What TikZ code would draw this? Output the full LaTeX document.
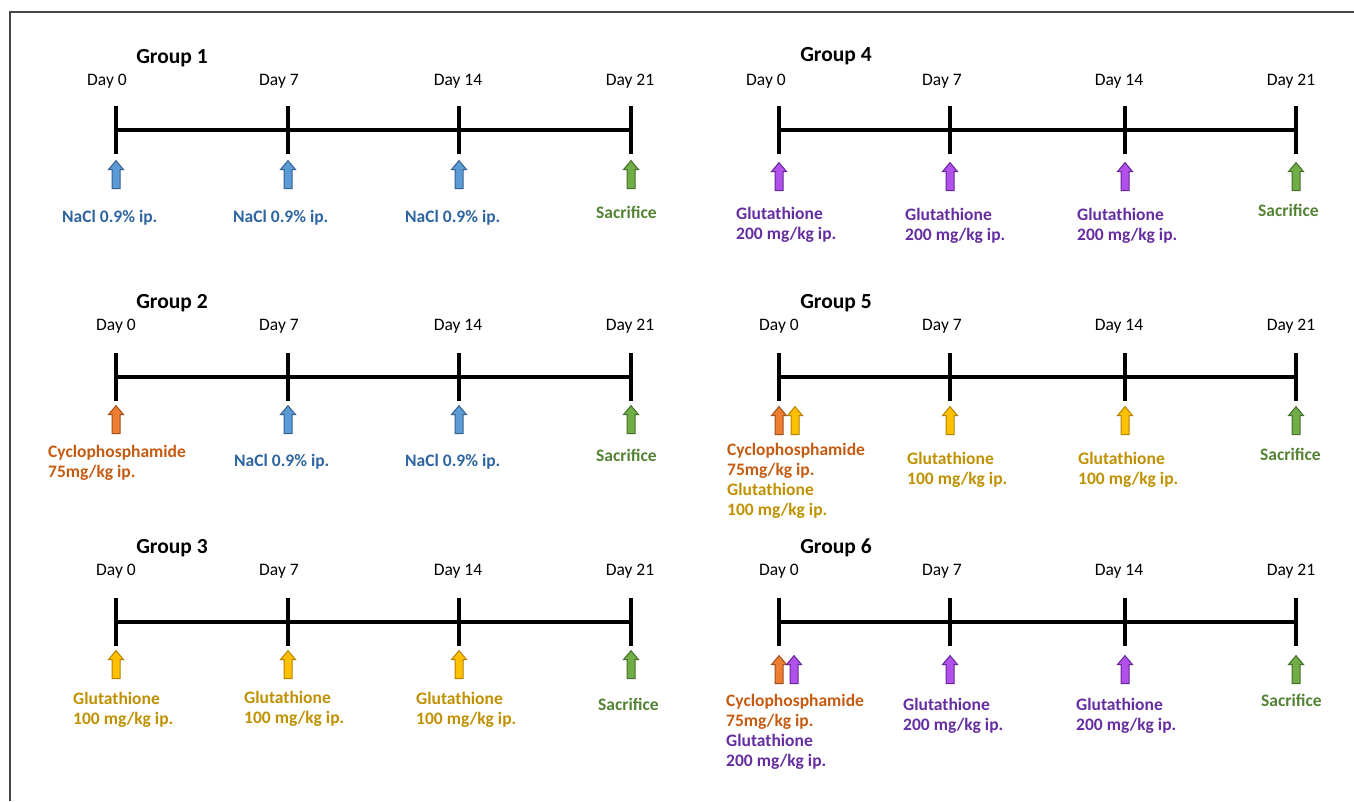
\documentclass[tikz,border=0pt]{standalone}
\usepackage{fontspec}
\setmainfont{Carlito}
\usetikzlibrary{shapes.arrows}

\definecolor{framegray}{RGB}{70,70,70}
\definecolor{naclfill}{RGB}{91,155,213}
\definecolor{naclline}{RGB}{55,95,140}
\definecolor{nacltext}{RGB}{46,100,160}
\definecolor{cycfill}{RGB}{237,125,49}
\definecolor{cycline}{RGB}{160,80,30}
\definecolor{cyctext}{RGB}{197,90,17}
\definecolor{glufill}{RGB}{255,192,0}
\definecolor{glucline}{RGB}{180,130,0}
\definecolor{glutext}{RGB}{191,144,0}
\definecolor{gsfill}{RGB}{178,80,235}
\definecolor{gsline}{RGB}{100,40,150}
\definecolor{gstext}{RGB}{100,45,160}
\definecolor{sacfill}{RGB}{112,173,71}
\definecolor{sacline}{RGB}{70,110,45}
\definecolor{sactext}{RGB}{84,130,53}

\begin{document}
\begin{tikzpicture}[x=1pt, y=-1pt,
	tick/.style={rectangle, fill=black, minimum width=4.5pt, minimum height=48pt, inner sep=0pt},
	axis/.style={draw=black, line width=4pt},
	day/.style={font=\fontsize{17.5}{20}\selectfont},
	grp/.style={font=\bfseries\fontsize{21.5}{24}\selectfont},
	arr/.style={single arrow, rotate=90, minimum height=28pt, minimum width=14pt, inner xsep=0pt, inner ysep=3.5pt, single arrow head extend=3.5pt, single arrow tip angle=80, line width=1pt},
	nacl/.style={arr, fill=naclfill, draw=naclline},
	cyc/.style={arr, fill=cycfill, draw=cycline},
	gluc/.style={arr, fill=glufill, draw=glucline},
	gs/.style={arr, fill=gsfill, draw=gsline},
	sac/.style={arr, fill=sacfill, draw=sacline},
	lbl/.style={anchor=north west, inner sep=0pt, align=left, font=\bfseries\fontsize{17.5}{20}\selectfont}]
	\useasboundingbox (0,0) rectangle (1354,801);
	\draw[framegray, line width=1.5pt] (10,801) -- (10,12) -- (1354,12);
	
	% Group 1
	\node[grp] (title1) at (172,58){Group 1};
	\node[tick] (g1d0) at (116,130){};
	\node[tick] (g1d7) at (288,130){};
	\node[tick] (g1d14) at (459,130){};
	\node[tick] (g1d21) at (631,130){};
	\path[axis] (g1d0.center) -- (g1d21.center);
	\node[day] (g1l0) at (107,81){Day 0};
	\node[day] (g1l7) at (279,81){Day 7};
	\node[day] (g1l14) at (458,81){Day 14};
	\node[day] (g1l21) at (630,81){Day 21};
	\node[nacl] (g1a0) at (116,177){};
	\node[nacl] (g1a7) at (288,177){};
	\node[nacl] (g1a14) at (459,177){};
	\node[sac] (g1a21) at (631,177){};
	\node[lbl, text=nacltext] (g1t0) at (62,210){NaCl 0.9\% ip.};
	\node[lbl, text=nacltext] (g1t7) at (233,210){NaCl 0.9\% ip.};
	\node[lbl, text=nacltext] (g1t14) at (405,210){NaCl 0.9\% ip.};
	\node[lbl, text=sactext] (g1t21) at (596,206){Sacrifice};
	
	% Group 2
	\node[grp] (title2) at (172,303){Group 2};
	\node[tick] (g2d0) at (116,377){};
	\node[tick] (g2d7) at (288,377){};
	\node[tick] (g2d14) at (459,377){};
	\node[tick] (g2d21) at (631,377){};
	\path[axis] (g2d0.center) -- (g2d21.center);
	\node[day] (g2l0) at (116,326){Day 0};
	\node[day] (g2l7) at (279,326){Day 7};
	\node[day] (g2l14) at (458,326){Day 14};
	\node[day] (g2l21) at (630,326){Day 21};
	\node[cyc] (g2a0) at (116,422){};
	\node[nacl] (g2a7) at (288,422){};
	\node[nacl] (g2a14) at (459,422){};
	\node[sac] (g2a21) at (631,422){};
	\node[lbl, text=cyctext] (g2t0) at (48,445){Cyclophosphamide\\75mg/kg ip.};
	\node[lbl, text=nacltext] (g2t7) at (234,454){NaCl 0.9\% ip.};
	\node[lbl, text=nacltext] (g2t14) at (405,454){NaCl 0.9\% ip.};
	\node[lbl, text=sactext] (g2t21) at (596,449){Sacrifice};
	
	% Group 3
	\node[grp] (title3) at (172,548){Group 3};
	\node[tick] (g3d0) at (116,622){};
	\node[tick] (g3d7) at (288,622){};
	\node[tick] (g3d14) at (459,622){};
	\node[tick] (g3d21) at (631,622){};
	\path[axis] (g3d0.center) -- (g3d21.center);
	\node[day] (g3l0) at (116,571){Day 0};
	\node[day] (g3l7) at (279,571){Day 7};
	\node[day] (g3l14) at (458,571){Day 14};
	\node[day] (g3l21) at (630,571){Day 21};
	\node[gluc] (g3a0) at (116,667){};
	\node[gluc] (g3a7) at (288,667){};
	\node[gluc] (g3a14) at (459,667){};
	\node[sac] (g3a21) at (631,667){};
	\node[lbl, text=glutext] (g3t0) at (73,692){Glutathione\\100 mg/kg ip.};
	\node[lbl, text=glutext] (g3t7) at (244,691){Glutathione\\100 mg/kg ip.};
	\node[lbl, text=glutext] (g3t14) at (416,692){Glutathione\\100 mg/kg ip.};
	\node[lbl, text=sactext] (g3t21) at (598,698){Sacrifice};
	
	% Group 4
	\node[grp] (title4) at (836,56){Group 4};
	\node[tick] (g4d0) at (779,130){};
	\node[tick] (g4d7) at (950,130){};
	\node[tick] (g4d14) at (1125,130){};
	\node[tick] (g4d21) at (1296,130){};
	\path[axis] (g4d0.center) -- (g4d21.center);
	\node[day] (g4l0) at (766,81){Day 0};
	\node[day] (g4l7) at (942,81){Day 7};
	\node[day] (g4l14) at (1119,81){Day 14};
	\node[day] (g4l21) at (1291,81){Day 21};
	\node[gs] (g4a0) at (779,179){};
	\node[gs] (g4a7) at (950,179){};
	\node[gs] (g4a14) at (1125,179){};
	\node[sac] (g4a21) at (1296,179){};
	\node[lbl, text=gstext] (g4t0) at (736,207){Glutathione\\200 mg/kg ip.};
	\node[lbl, text=gstext] (g4t7) at (905,208){Glutathione\\200 mg/kg ip.};
	\node[lbl, text=gstext] (g4t14) at (1077,208){Glutathione\\200 mg/kg ip.};
	\node[lbl, text=sactext] (g4t21) at (1258,204){Sacrifice};
	
	% Group 5
	\node[grp] (title5) at (836,303){Group 5};
	\node[tick] (g5d0) at (779,377){};
	\node[tick] (g5d7) at (950,377){};
	\node[tick] (g5d14) at (1125,377){};
	\node[tick] (g5d21) at (1296,377){};
	\path[axis] (g5d0.center) -- (g5d21.center);
	\node[day] (g5l0) at (779,326){Day 0};
	\node[day] (g5l7) at (942,326){Day 7};
	\node[day] (g5l14) at (1119,326){Day 14};
	\node[day] (g5l21) at (1291,326){Day 21};
	\node[cyc] (g5a0) at (779,423){};
	\node[gluc] (g5b0) at (795,423){};
	\node[gluc] (g5a7) at (950,423){};
	\node[gluc] (g5a14) at (1125,423){};
	\node[sac] (g5a21) at (1296,423){};
	\node[lbl] (g5t0) at (727,443){\textcolor{cyctext}{Cyclophosphamide}\\\textcolor{cyctext}{75mg/kg ip.}\\\textcolor{glutext}{Glutathione}\\\textcolor{glutext}{100 mg/kg ip.}};
	\node[lbl, text=glutext] (g5t7) at (907,452){Glutathione\\100 mg/kg ip.};
	\node[lbl, text=glutext] (g5t14) at (1078,452){Glutathione\\100 mg/kg ip.};
	\node[lbl, text=sactext] (g5t21) at (1260,448){Sacrifice};
	
	% Group 6
	\node[grp] (title6) at (836,548){Group 6};
	\node[tick] (g6d0) at (779,622){};
	\node[tick] (g6d7) at (950,622){};
	\node[tick] (g6d14) at (1125,622){};
	\node[tick] (g6d21) at (1296,622){};
	\path[axis] (g6d0.center) -- (g6d21.center);
	\node[day] (g6l0) at (779,571){Day 0};
	\node[day] (g6l7) at (942,571){Day 7};
	\node[day] (g6l14) at (1119,571){Day 14};
	\node[day] (g6l21) at (1291,571){Day 21};
	\node[cyc] (g6a0) at (779,672){};
	\node[gs] (g6b0) at (794,672){};
	\node[gs] (g6a7) at (950,672){};
	\node[gs] (g6a14) at (1125,672){};
	\node[sac] (g6a21) at (1296,672){};
	\node[lbl] (g6t0) at (726,694){\textcolor{cyctext}{Cyclophosphamide}\\\textcolor{cyctext}{75mg/kg ip.}\\\textcolor{gstext}{Glutathione}\\\textcolor{gstext}{200 mg/kg ip.}};
	\node[lbl, text=gstext] (g6t7) at (903,698){Glutathione\\200 mg/kg ip.};
	\node[lbl, text=gstext] (g6t14) at (1076,698){Glutathione\\200 mg/kg ip.};
	\node[lbl, text=sactext] (g6t21) at (1261,694){Sacrifice};
\end{tikzpicture}
\end{document}
